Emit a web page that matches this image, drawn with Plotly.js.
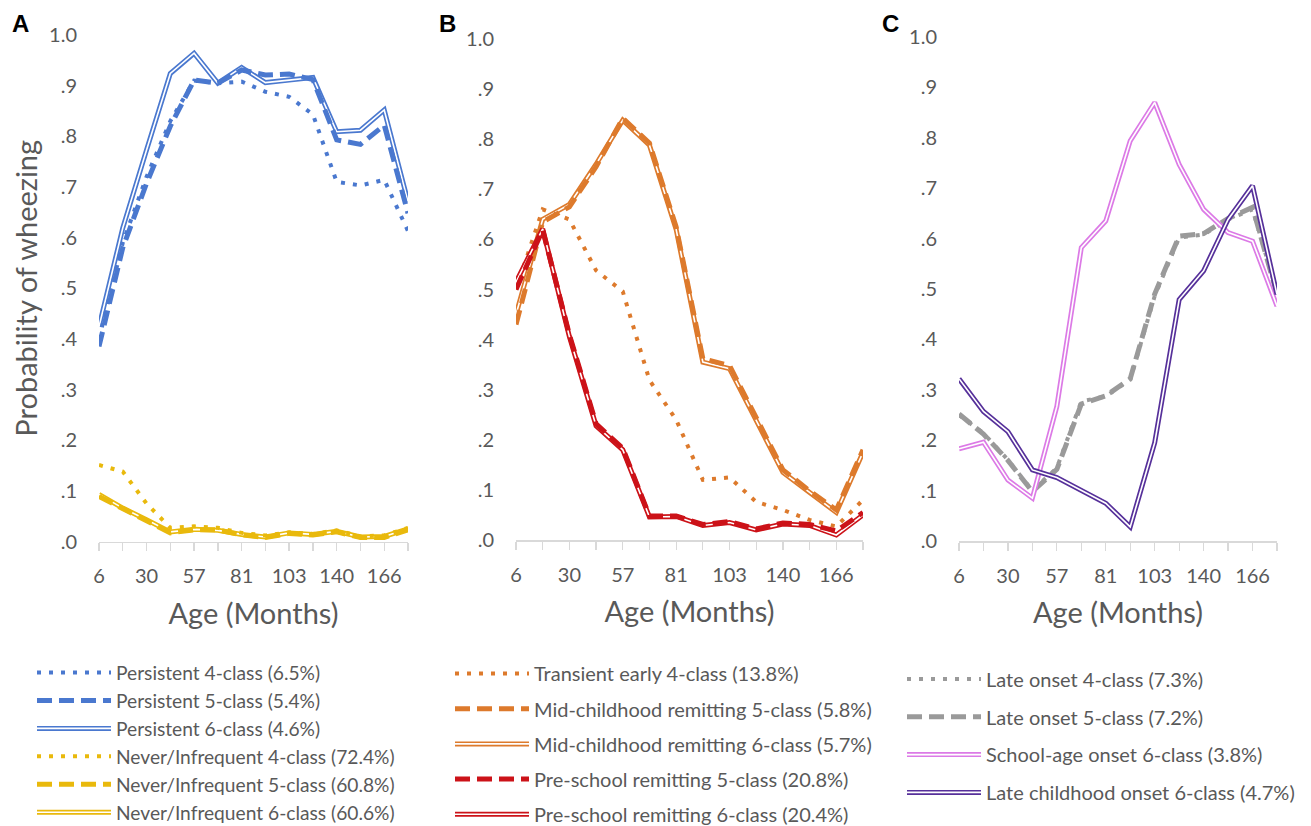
<!DOCTYPE html>
<html>
<head>
<meta charset="utf-8">
<script src="https://cdn.plot.ly/plotly-3.0.1.min.js"></script>
<style>
  html, body { margin: 0; padding: 0; background: #fff; }
  #chart { width: 1311px; height: 826px; }
</style>
</head>
<body>
<div id="chart"></div>
<script>
// ---------- data ----------
const ages = [6, 18, 30, 42, 57, 69, 81, 91, 103, 128, 140, 157, 166, 181];
const xTickLabels = ['6', '', '30', '', '57', '', '81', '', '103', '', '140', '', '166', ''];
const yTickValues = [0, 0.1, 0.2, 0.3, 0.4, 0.5, 0.6, 0.7, 0.8, 0.9, 1.0];
const yTickLabels = ['.0', '.1', '.2', '.3', '.4', '.5', '.6', '.7', '.8', '.9', '1.0'];

// Panel A
const persistent4 = [0.40, 0.59, 0.72, 0.83, 0.91, 0.905, 0.908, 0.888, 0.878, 0.843, 0.71, 0.703, 0.714, 0.613];
const persistent5 = [0.385, 0.58, 0.707, 0.82, 0.911, 0.905, 0.931, 0.921, 0.923, 0.912, 0.793, 0.784, 0.822, 0.648];
const persistent6 = [0.424, 0.619, 0.773, 0.924, 0.964, 0.905, 0.936, 0.906, 0.911, 0.916, 0.809, 0.812, 0.852, 0.671];
const never4 = [0.151, 0.138, 0.075, 0.027, 0.03, 0.027, 0.017, 0.012, 0.018, 0.015, 0.022, 0.01, 0.012, 0.027];
const never5 = [0.089, 0.065, 0.042, 0.017, 0.023, 0.023, 0.013, 0.008, 0.016, 0.013, 0.019, 0.008, 0.008, 0.023];
const never6 = [0.093, 0.066, 0.043, 0.019, 0.024, 0.022, 0.014, 0.009, 0.017, 0.014, 0.02, 0.009, 0.01, 0.025];

// Panel B
const transient4 = [0.50, 0.66, 0.64, 0.538, 0.496, 0.319, 0.24, 0.12, 0.125, 0.076, 0.06, 0.04, 0.027, 0.08];
const midChild5 = [0.43, 0.635, 0.665, 0.745, 0.842, 0.792, 0.625, 0.362, 0.348, 0.243, 0.14, 0.098, 0.06, 0.18];
const midChild6 = [0.45, 0.64, 0.67, 0.75, 0.838, 0.788, 0.62, 0.355, 0.342, 0.238, 0.135, 0.095, 0.055, 0.175];
const preSchool5 = [0.50, 0.619, 0.41, 0.232, 0.183, 0.048, 0.048, 0.031, 0.037, 0.022, 0.034, 0.031, 0.018, 0.055];
const preSchool6 = [0.515, 0.621, 0.406, 0.228, 0.18, 0.046, 0.047, 0.029, 0.035, 0.02, 0.032, 0.029, 0.01, 0.05];

// Panel C
const lateOnset4 = [0.25, 0.214, 0.161, 0.1, 0.145, 0.277, 0.287, 0.32, 0.486, 0.602, 0.608, 0.638, 0.658, 0.493];
const lateOnset5 = [0.252, 0.212, 0.16, 0.098, 0.142, 0.272, 0.288, 0.322, 0.49, 0.605, 0.61, 0.64, 0.662, 0.49];
const schoolAge6 = [0.183, 0.196, 0.121, 0.085, 0.267, 0.582, 0.635, 0.794, 0.87, 0.747, 0.658, 0.612, 0.595, 0.466];
const lateChild6 = [0.322, 0.257, 0.217, 0.141, 0.126, 0.1, 0.075, 0.028, 0.195, 0.479, 0.536, 0.638, 0.705, 0.489];

// ---------- styling ----------
const FONT = 'Lato, "Open Sans", sans-serif';
const GREY_TXT = '#595959';
const BLUE = '#4A78CF', YELLOW = '#E9B90C', ORANGE = '#DD7A2C', RED = '#CC1218',
      GREY = '#9A9A9A', PINK = '#DC7AE6', PURPLE = '#56309A';
const DOT = '4px,8px', DASH = '15px,7px';

const xCats = ages.map(String);
const traces = [];
const doubleNames = new Set();

function dotted(name, y, color, xa, ya, lg, rank) {
  traces.push({ type: 'scatter', mode: 'lines', name, x: xCats, y, xaxis: xa, yaxis: ya,
    legend: lg, legendrank: rank, legendgroup: name,
    line: { color, width: 4, dash: DOT }, hoverinfo: 'skip' });
}
function dashed(name, y, color, xa, ya, lg, rank) {
  traces.push({ type: 'scatter', mode: 'lines', name, x: xCats, y, xaxis: xa, yaxis: ya,
    legend: lg, legendrank: rank, legendgroup: name,
    line: { color, width: 5, dash: DASH }, hoverinfo: 'skip' });
}
function doubled(name, y, color, xa, ya, lg, rank) {
  doubleNames.add(name);
  traces.push({ type: 'scatter', mode: 'lines', name, x: xCats, y, xaxis: xa, yaxis: ya,
    legend: lg, legendrank: rank, legendgroup: name,
    line: { color, width: 5 }, hoverinfo: 'skip' });
  traces.push({ type: 'scatter', mode: 'lines', name: name + ' core', x: xCats, y, xaxis: xa, yaxis: ya,
    legend: lg, showlegend: false, legendgroup: name,
    line: { color: '#ffffff', width: 1.6 }, hoverinfo: 'skip' });
}

// Panel A
doubled('Persistent 6-class (4.6%)', persistent6, BLUE, 'x', 'y', 'legend', 3);
dashed('Persistent 5-class (5.4%)', persistent5, BLUE, 'x', 'y', 'legend', 2);
dotted('Persistent 4-class (6.5%)', persistent4, BLUE, 'x', 'y', 'legend', 1);
doubled('Never/Infrequent 6-class (60.6%)', never6, YELLOW, 'x', 'y', 'legend', 6);
dashed('Never/Infrequent 5-class (60.8%)', never5, YELLOW, 'x', 'y', 'legend', 5);
dotted('Never/Infrequent 4-class (72.4%)', never4, YELLOW, 'x', 'y', 'legend', 4);

// Panel B
doubled('Mid-childhood remitting 6-class (5.7%)', midChild6, ORANGE, 'x2', 'y2', 'legend2', 3);
dashed('Mid-childhood remitting 5-class (5.8%)', midChild5, ORANGE, 'x2', 'y2', 'legend2', 2);
dotted('Transient early 4-class (13.8%)', transient4, ORANGE, 'x2', 'y2', 'legend2', 1);
doubled('Pre-school remitting 6-class (20.4%)', preSchool6, RED, 'x2', 'y2', 'legend2', 5);
dashed('Pre-school remitting 5-class (20.8%)', preSchool5, RED, 'x2', 'y2', 'legend2', 4);

// Panel C
dashed('Late onset 5-class (7.2%)', lateOnset5, GREY, 'x3', 'y3', 'legend3', 2);
dotted('Late onset 4-class (7.3%)', lateOnset4, GREY, 'x3', 'y3', 'legend3', 1);
doubled('School-age onset 6-class (3.8%)', schoolAge6, PINK, 'x3', 'y3', 'legend3', 3);
doubled('Late childhood onset 6-class (4.7%)', lateChild6, PURPLE, 'x3', 'y3', 'legend3', 4);

// ---------- layout ----------
const W = 1311, H = 826;
const px = v => v / W, py = v => 1 - v / H;

function xAxis(x0, x1, anchor) {
  return {
    domain: [px(x0), px(x1)], anchor, type: 'category', range: [0, 13],
    tickmode: 'array', tickvals: xCats, ticktext: xTickLabels,
    ticks: 'outside', ticklen: 8, tickwidth: 1.3, tickcolor: '#D9D9D9',
    showline: true, linecolor: '#D9D9D9', linewidth: 1.5,
    showgrid: false, zeroline: false, ticklabelstandoff: 8,
    tickfont: { family: FONT, size: 20, color: GREY_TXT },
    title: { text: 'Age (Months)', font: { family: FONT, size: 29, color: GREY_TXT }, standoff: 17 },
    fixedrange: true
  };
}
function yAxis(yTop, yBot, anchor, title) {
  const ax = {
    domain: [py(yBot), py(yTop)], anchor, range: [0, 1],
    tickmode: 'array', tickvals: yTickValues, ticktext: yTickLabels,
    ticks: '', showline: false, showgrid: false, zeroline: false,
    ticklabelstandoff: 21,
    tickfont: { family: FONT, size: 20, color: GREY_TXT },
    fixedrange: true
  };
  if (title) ax.title = { text: title, font: { family: FONT, size: 29, color: GREY_TXT }, standoff: 2 };
  return ax;
}
function legendBox(x, y, gap, size) {
  return {
    x: px(x), y: py(y), xanchor: 'left', yanchor: 'top',
    bgcolor: 'rgba(0,0,0,0)', borderwidth: 0,
    font: { family: FONT, size, color: GREY_TXT },
    itemwidth: 74, tracegroupgap: gap, traceorder: 'grouped',
    itemclick: false, itemdoubleclick: false
  };
}

const letterFont = { family: '"Liberation Sans", Arial, sans-serif', size: 24, color: '#000' };
const layout = {
  width: W, height: H,
  margin: { l: 0, r: 0, t: 0, b: 0, autoexpand: false },
  paper_bgcolor: '#fff', plot_bgcolor: '#fff',
  showlegend: true,
  xaxis: xAxis(99, 408, 'y'),
  yaxis: yAxis(35, 541.5, 'x', 'Probability of wheezing'),
  xaxis2: xAxis(516, 863, 'y2'),
  yaxis2: yAxis(39, 540, 'x2'),
  xaxis3: xAxis(959, 1277, 'y3'),
  yaxis3: yAxis(37, 541, 'x3'),
  legend: legendBox(32, 653.5, 0, 19.2),
  legend2: legendBox(450, 654, 6.2, 20),
  legend3: legendBox(902, 659.5, 8.8, 20),
  annotations: [
    { text: '<b>A</b>', x: px(20), y: py(24), xref: 'paper', yref: 'paper', showarrow: false, font: letterFont, xanchor: 'center', yanchor: 'middle' },
    { text: '<b>B</b>', x: px(447), y: py(24), xref: 'paper', yref: 'paper', showarrow: false, font: letterFont, xanchor: 'center', yanchor: 'middle' },
    { text: '<b>C</b>', x: px(890), y: py(24), xref: 'paper', yref: 'paper', showarrow: false, font: letterFont, xanchor: 'center', yanchor: 'middle' }
  ]
};

const gd = document.getElementById('chart');
function addCores() {
  gd.querySelectorAll('g.traces').forEach(g => {
    const d = g.__data__;
    const tr = d && d[0] && d[0].trace;
    if (!tr || !doubleNames.has(tr.name)) return;
    if (g.querySelector('path.core-line')) return;
    const line = g.querySelector('path.js-line');
    if (!line) return;
    const c = line.cloneNode(true);
    c.classList.remove('js-line');
    c.classList.add('core-line');
    c.style.stroke = '#ffffff';
    c.style.strokeWidth = '1.6px';
    c.style.strokeDasharray = 'none';
    line.parentNode.appendChild(c);
  });
}
Plotly.newPlot(gd, traces, layout, { displayModeBar: false, staticPlot: true }).then(() => {
  addCores();
  gd.on('plotly_afterplot', addCores);
});
</script>
</body>
</html>
